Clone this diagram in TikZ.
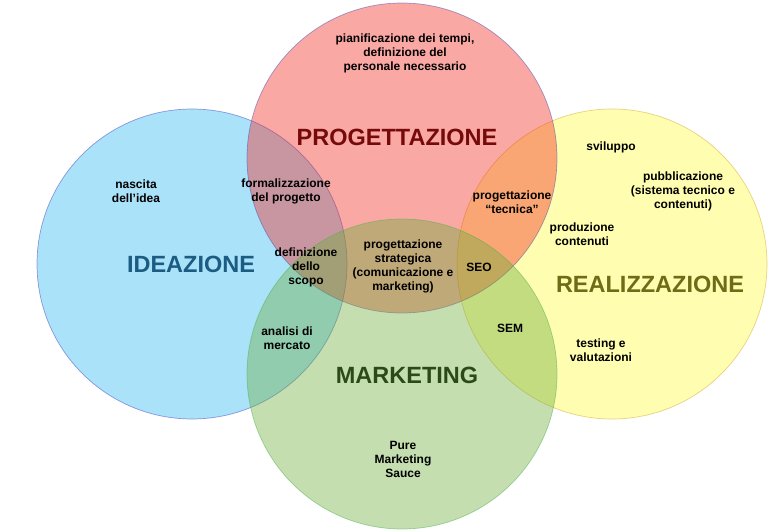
\documentclass[tikz,border=0pt]{standalone}
\usepackage{fontspec}
\setmainfont{Liberation Sans}
\usepackage{tikz}
\usetikzlibrary{positioning}

\definecolor{ideaBlue}{RGB}{42,182,242}
\definecolor{progRed}{RGB}{242,37,27}
\definecolor{realYellow}{RGB}{255,250,55}
\definecolor{markGreen}{RGB}{107,172,57}
\definecolor{ideaText}{RGB}{28,92,130}
\definecolor{progText}{RGB}{118,10,10}
\definecolor{realText}{RGB}{110,108,22}
\definecolor{markText}{RGB}{44,74,24}

\begin{document}
\begin{tikzpicture}[x=1pt, y=-1pt,
        area/.style={circle, minimum size=310pt, inner sep=0pt, fill opacity=0.4, draw opacity=0.5, line width=0.7pt},
        lbl/.style={align=center, font=\fontsize{12}{14}\selectfont\bfseries},
        big/.style={font=\fontsize{23.5}{26}\selectfont\bfseries}]
        \useasboundingbox (0,0) rectangle (772,532);
        % the four areas
        \node[area, fill=ideaBlue, draw=blue!50!gray] (ideazione) at (192,264) {};
        \node[area, fill=realYellow, draw=brown!70!yellow] (realizz) at (612,264) {};
        \node[area, fill=progRed, draw=blue!40!gray] (progett) at (402,158) {};
        \node[area, fill=markGreen, draw=green!40!gray] (marketing) at (402,374) {};

        % titles
        \node[big, text=ideaText] (tIdea) at (191,264) {IDEAZIONE};
        \node[big, text=progText] (tProg) at (397,137) {PROGETTAZIONE};
        \node[big, text=realText] (tReal) at (650,284) {REALIZZAZIONE};
        \node[big, text=markText] (tMark) at (407,375) {MARKETING};

        % activities
        \node[lbl] (tempi) at (405,53) {pianificazione dei tempi,\\definizione del\\personale necessario};
        \node[lbl] (nascita) at (136,191) {nascita\\dell’idea};
        \node[lbl] (formal) at (286,191) {formalizzazione\\del progetto};
        \node[lbl] (scopo) at (306,267) {definizione\\dello\\scopo};
        \node[lbl] (strat) at (403,266) {progettazione\\strategica\\(comunicazione e\\marketing)};
        \node[lbl] (seo) at (479,267) {SEO};
        \node[lbl] (tecnica) at (512,202) {progettazione\\“tecnica”};
        \node[lbl] (svil) at (611,147) {sviluppo};
        \node[lbl] (pubbl) at (683,191) {pubblicazione\\(sistema tecnico e\\contenuti)};
        \node[lbl] (produz) at (582,234) {produzione\\contenuti};
        \node[lbl] (sem) at (510,328) {SEM};
        \node[lbl] (testing) at (601,350) {testing e\\valutazioni};
        \node[lbl] (analisi) at (287,338) {analisi di\\mercato};
        \node[lbl] (sauce) at (403,459) {Pure\\Marketing\\Sauce};
    \end{tikzpicture}
\end{document}
